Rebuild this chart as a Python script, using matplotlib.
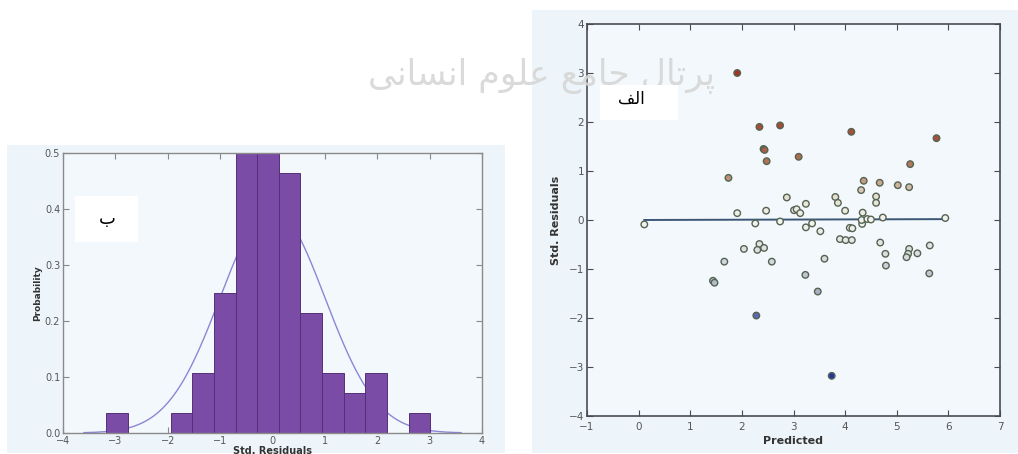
import numpy as np
import matplotlib
matplotlib.use("Agg")
import matplotlib.pyplot as plt
from matplotlib.patches import Rectangle
from matplotlib.colors import LinearSegmentedColormap, Normalize

# ---------------- data ----------------
# histogram (panel "ب")
hist_lo, hist_hi = -3.18, 3.01
hist_density = [0.036, 0.0, 0.0, 0.036, 0.107, 0.25, 0.53, 0.53,
                0.465, 0.215, 0.107, 0.072, 0.107, 0.0, 0.036]
hist_xticks = [-4, -3, -2, -1, 0, 1, 2, 3, 4]
hist_yticks = [0.0, 0.1, 0.2, 0.3, 0.4, 0.5]
normal_mu, normal_sigma = 0.0, 1.0
curve_lo, curve_hi = -3.6, 3.6

# scatter (panel "الف")
predicted = [1.91, 2.34, 2.74, 4.12, 5.77, 2.42, 2.44, 2.48, 3.10, 1.74,
             5.26, 4.36, 4.67, 5.02, 5.24, 4.31, 2.87, 3.81, 3.86, 4.60,
             4.60, 3.24, 1.91, 2.47, 3.01, 3.06, 3.13, 4.00, 4.34, 0.11,
             2.26, 2.74, 3.36, 3.24, 3.52, 4.09, 4.14, 4.33, 4.32, 4.43,
             4.50, 4.73, 5.94, 3.90, 4.01, 4.13, 4.68, 2.04, 2.34, 2.43,
             2.30, 5.24, 5.64, 5.40, 5.22, 5.19, 4.78, 4.79, 1.66, 2.58,
             3.60, 3.23, 5.63, 1.44, 1.47, 3.47, 2.28, 3.74]
std_resid = [3.00, 1.90, 1.93, 1.80, 1.67, 1.45, 1.43, 1.20, 1.29, 0.86,
             1.14, 0.80, 0.76, 0.71, 0.67, 0.61, 0.46, 0.47, 0.35, 0.48,
             0.35, 0.33, 0.14, 0.19, 0.20, 0.22, 0.14, 0.19, 0.15, -0.09,
             -0.07, -0.03, -0.07, -0.15, -0.23, -0.16, -0.17, -0.08, 0.00, 0.02,
             0.01, 0.05, 0.04, -0.39, -0.41, -0.41, -0.46, -0.59, -0.49, -0.57,
             -0.61, -0.59, -0.52, -0.68, -0.69, -0.76, -0.69, -0.93, -0.85, -0.85,
             -0.79, -1.12, -1.09, -1.24, -1.28, -1.46, -1.95, -3.18]
fit_intercept, fit_slope = 0.0, 0.003
sc_xticks = [-1, 0, 1, 2, 3, 4, 5, 6, 7]
sc_yticks = [-4, -3, -2, -1, 0, 1, 2, 3, 4]

# texts (Arabic presentation forms in visual order)
label_b = "\uFE8F"                       # ب
label_alef = "\uFED2\uFEDF\uFE8D"        # الف
watermark = ("\uFBFD\uFEE7\uFE8E\uFEB4\uFEE7\uFE8D" + " " +   # انسانی
             "\uFEE1\uFEEE\uFEE0\uFECB" + " " +               # علوم
             "\uFECA\uFEE3\uFE8E\uFE9F" + " " +               # جامع
             "\uFEDD\uFE8E\uFE97\uFEAE\uFB58")                # پرتال

# ---------------- figure ----------------
W, H = 1018, 454
fig = plt.figure(figsize=(W / 100, H / 100), dpi=100)
fig.patch.set_facecolor("white")

def fx(px):
    return px / W

def fy(py):
    return 1 - py / H

bg = "#eef5fa"
fig.patches.append(Rectangle((fx(7), fy(453)), fx(505) - fx(7), fy(145) - fy(453),
                             transform=fig.transFigure, facecolor=bg, edgecolor="none", zorder=-10))
fig.patches.append(Rectangle((fx(532), fy(453)), fx(1018) - fx(532), fy(10) - fy(453),
                             transform=fig.transFigure, facecolor=bg, edgecolor="none", zorder=-10))

tick_color = "#555555"

def style_axes(ax, spine_color, lw):
    ax.set_facecolor("#f3f8fc")
    for s in ax.spines.values():
        s.set_color(spine_color)
        s.set_linewidth(lw)
    ax.tick_params(direction="in", top=True, right=True, length=4, width=0.8,
                   colors=spine_color, labelcolor=tick_color, labelsize=7, pad=2)

# ----- left: histogram -----
ax1 = fig.add_axes([fx(63), fy(433), fx(482) - fx(63), fy(153) - fy(433)])
style_axes(ax1, "#8a8a8a", 1.0)
edges = np.linspace(hist_lo, hist_hi, len(hist_density) + 1)
ax1.bar(edges[:-1], hist_density, width=np.diff(edges), align="edge",
        color="#7b4ca6", edgecolor="#55307a", linewidth=0.7, zorder=2)
xc = np.linspace(curve_lo, curve_hi, 300)
pdf = np.exp(-0.5 * ((xc - normal_mu) / normal_sigma) ** 2) / (normal_sigma * np.sqrt(2 * np.pi))
ax1.plot(xc, pdf, color="#8b86d6", lw=1.0, zorder=1)
ax1.set_xlim(-4, 4)
ax1.set_ylim(0, 0.5)
ax1.set_xticks(hist_xticks)
ax1.set_xticklabels([("\u2212%d" % -t) if t < 0 else "%d" % t for t in hist_xticks])
ax1.set_yticks(hist_yticks)
ax1.set_yticklabels(["%.1f" % t for t in hist_yticks])
ax1.set_xlabel("Std. Residuals", fontsize=7, fontweight="bold", color="#333333", labelpad=0)
ax1.set_ylabel("Probability", fontsize=6.5, fontweight="bold", color="#333333", labelpad=2)

# ----- right: scatter -----
ax2 = fig.add_axes([fx(587), fy(416), fx(1000) - fx(587), fy(24) - fy(416)])
style_axes(ax2, "#4a4a55", 1.2)
cmap = LinearSegmentedColormap.from_list(
    "rw",
    [(0.0, "#26369a"), (0.19, "#5560b4"), (0.27, "#a8b0c4"), (0.38, "#d6dcde"),
     (0.5, "#f2f4ee"), (0.58, "#e6ddd0"), (0.64, "#b88c6c"), (0.75, "#a5533c"),
     (1.0, "#a3301f")])
norm = Normalize(vmin=-3.2, vmax=3.2)
ax2.scatter(predicted, std_resid, c=std_resid, cmap=cmap, norm=norm, s=22,
            edgecolors="#556452", linewidths=1.0, zorder=3)
px = np.array([min(predicted), max(predicted)])
ax2.plot(px, fit_intercept + fit_slope * px, color="#3c5676", lw=1.4, zorder=2)
ax2.set_xlim(-1, 7)
ax2.set_ylim(-4, 4)
ax2.set_xticks(sc_xticks)
ax2.set_xticklabels([("\u2212%d" % -t) if t < 0 else "%d" % t for t in sc_xticks])
ax2.set_yticks(sc_yticks)
ax2.set_yticklabels([("\u2212%d" % -t) if t < 0 else "%d" % t for t in sc_yticks])
ax2.tick_params(labelsize=7.5)
ax2.tick_params(axis="x", pad=4)
ax2.set_xlabel("Predicted", fontsize=8, fontweight="bold", color="#333333", labelpad=3)
ax2.set_ylabel("Std. Residuals", fontsize=8, fontweight="bold", color="#333333", labelpad=6)

# ----- watermark -----
fig.text(fx(542), fy(76), watermark, fontsize=25, color="#d6d6d6",
         family=["DejaVu Sans"], ha="center", va="center", zorder=5, alpha=0.9)

# ----- panel labels -----
fig.patches.append(Rectangle((fx(75), fy(242)), fx(138) - fx(75), fy(196) - fy(242),
                             transform=fig.transFigure, facecolor="white", edgecolor="none", zorder=6))
fig.patches.append(Rectangle((fx(600), fy(120)), fx(678) - fx(600), fy(85) - fy(120),
                             transform=fig.transFigure, facecolor="white", edgecolor="none", zorder=6))
fig.text(fx(107), fy(219), label_b, fontsize=13, color="black", family=["DejaVu Sans"],
         ha="center", va="center", zorder=7)
fig.text(fx(631), fy(99), label_alef, fontsize=12, color="black", family=["DejaVu Sans"],
         ha="center", va="center", zorder=7)

fig.savefig("out.png", dpi=100, facecolor="white")
